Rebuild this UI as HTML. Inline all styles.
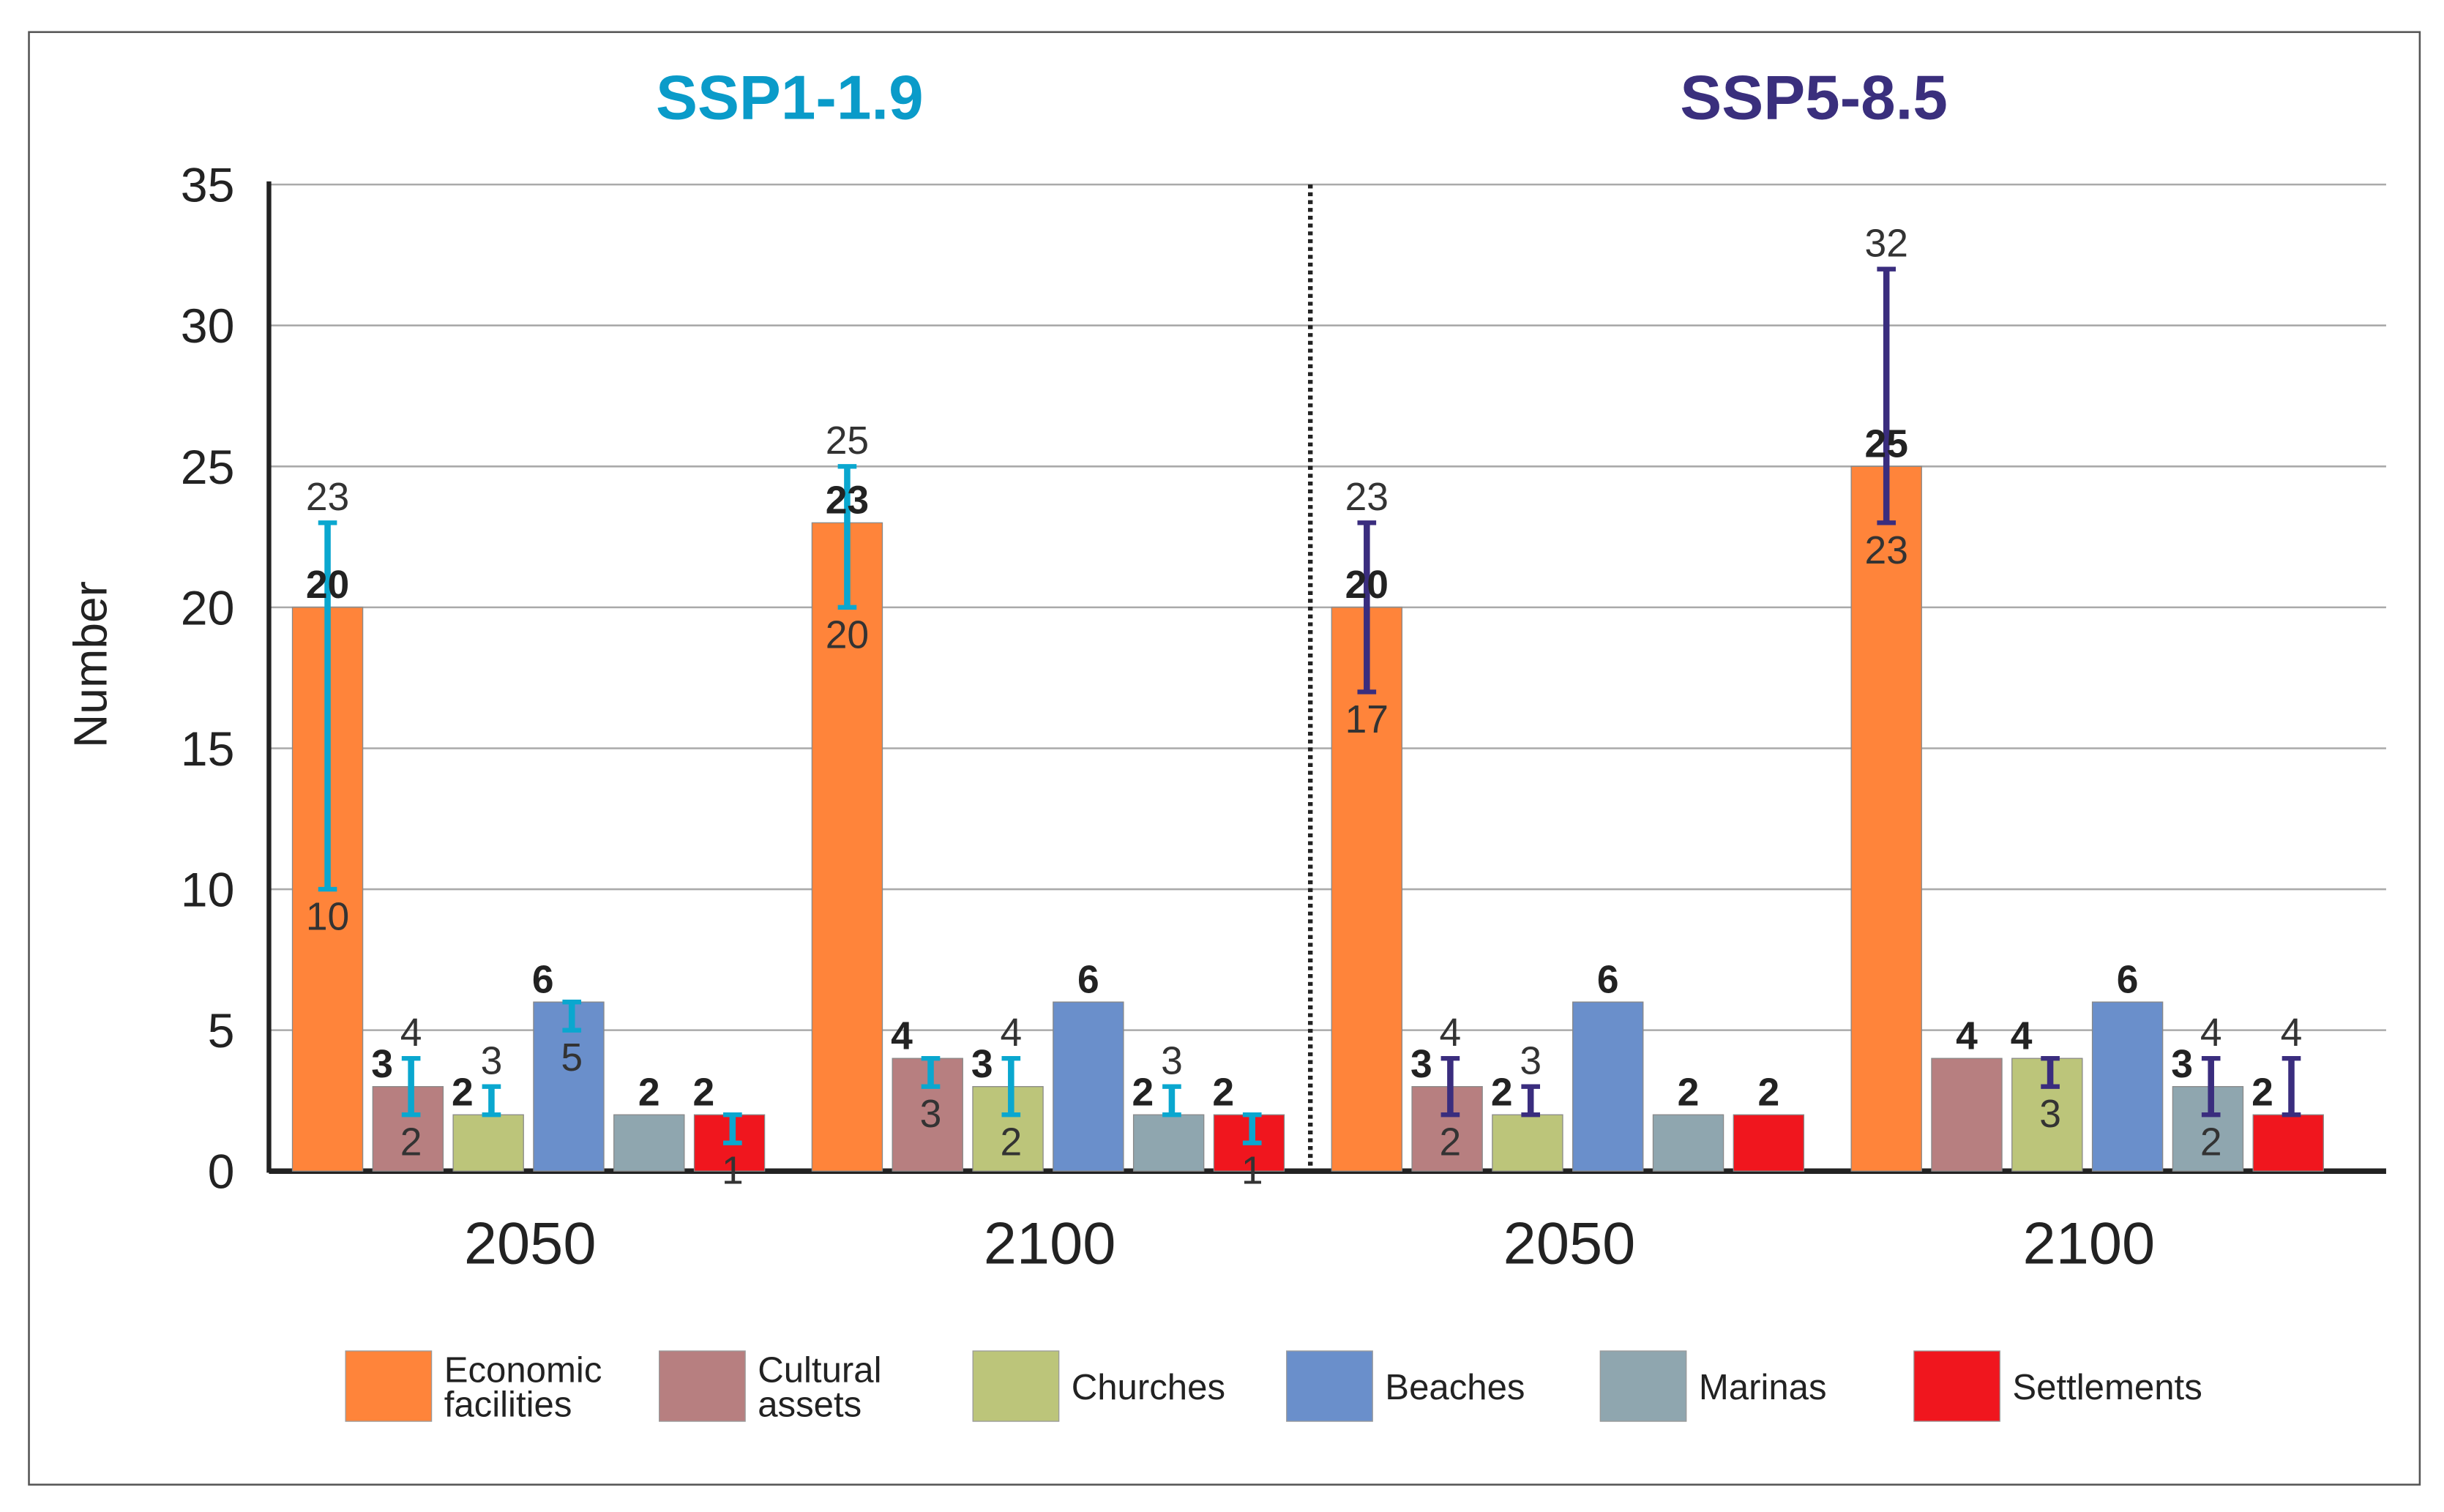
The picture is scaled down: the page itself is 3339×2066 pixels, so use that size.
<!DOCTYPE html>
<html><head><meta charset="utf-8"><style>
html,body{margin:0;padding:0;background:#fff;}
svg{display:block;}
text{font-family:"Liberation Sans Narrow","Liberation Sans",sans-serif;}
</style></head><body>
<svg id="chart" width="3339" height="2066" viewBox="0 0 1563 967" preserveAspectRatio="none" xmlns="http://www.w3.org/2000/svg">
<rect x="18.5" y="20.5" width="1529" height="929" fill="#fff" stroke="#555" stroke-width="1.2"/>
<text x="505" y="76" font-size="40" font-weight="bold" fill="#0A9BC9" text-anchor="middle" style="font-family:'Liberation Sans',sans-serif">SSP1-1.9</text>
<text x="1160" y="76" font-size="40" font-weight="bold" fill="#3A2F7D" text-anchor="middle" style="font-family:'Liberation Sans',sans-serif">SSP5-8.5</text>
<text transform="translate(68,425) rotate(-90)" font-size="30" fill="#222" text-anchor="middle">Number</text>
<g id="grid"></g>
<g id="bars"></g>
<g id="labels"></g>
<g id="legend"></g>
</svg>
<script>
const categories = ["Economic facilities","Cultural assets","Churches","Beaches","Marinas","Settlements"];
const groups = ["2050","2100","2050","2100"];
const scenarios = ["SSP1-1.9","SSP1-1.9","SSP5-8.5","SSP5-8.5"];
const values_g1 = [20,3,2,6,2,2];
const values_g2 = [23,4,3,6,2,2];
const values_g3 = [20,3,2,6,2,2];
const values_g4 = [25,4,4,6,3,2];
const low_g1 = [10,2,2,5,null,1];
const high_g1 = [23,4,3,6,null,2];
const low_g2 = [20,3,2,null,2,1];
const high_g2 = [25,4,4,null,3,2];
const low_g3 = [17,2,2,null,null,null];
const high_g3 = [23,4,3,null,null,null];
const low_g4 = [23,null,3,null,2,2];
const high_g4 = [32,null,4,null,4,4];
const yTicks = [0,5,10,15,20,25,30,35];

const values = [values_g1,values_g2,values_g3,values_g4];
const lows = [low_g1,low_g2,low_g3,low_g4];
const highs = [high_g1,high_g2,high_g3,high_g4];
const colors = ["#FF843A","#B77F80","#BCC57A","#6A8FCB","#8FA6AF","#F0161E"];
const errColors = ["#0AA7CF","#0AA7CF","#3A2D7E","#3A2D7E"];
const NS="http://www.w3.org/2000/svg";
const X0=172, X1=1526, Y0=749, Y35=118;
function y(v){return Y0-(v/35)*(Y0-Y35);}
function gx(g){return 187+g*332.3;}
function bx(g,k){return gx(g)+k*51.4;}
const BW=45;
function mk(tag,attrs,parent,txt){const e=document.createElementNS(NS,tag);for(const a in attrs)e.setAttribute(a,attrs[a]);if(txt!==undefined)e.textContent=txt;parent.appendChild(e);return e;}
const grid=document.getElementById('grid'),bars=document.getElementById('bars'),labels=document.getElementById('labels'),legend=document.getElementById('legend');
yTicks.forEach(t=>{
  if(t>0){const l=mk('line',{x1:X0,x2:X1,y1:y(t),y2:y(t),stroke:'#aaa','stroke-width':1.2},grid);
  
  }
  const tx=mk('text',{x:150,y:y(t)+11,'font-size':31,fill:'#222','text-anchor':'end'},grid,t);
  
  
});
const yax=mk('line',{x1:X0,x2:X0,y1:Y35-2,y2:Y0+1,stroke:'#222','stroke-width':3},grid);


const div=mk('line',{x1:838,x2:838,y1:Y35,y2:Y0,stroke:'#222','stroke-width':3,'stroke-dasharray':'2.5,2.5'},grid);


values.forEach((vals,g)=>{
  vals.forEach((v,k)=>{
    const x=bx(g,k);
    const r=mk('rect',{x:x,y:y(v),width:BW,height:Y0-y(v),fill:colors[k],stroke:'#888','stroke-width':0.6},bars);
    
    
    const cx=x+BW/2;
    const lo=lows[g][k],hi=highs[g][k];
    const hasErr=lo!==null&&hi!==null;
    const vx=(hasErr&&k>0)?x+6:cx;
    const vl=mk('text',{x:vx,y:y(v)-6,'font-size':25,'font-weight':'bold',fill:'#222','text-anchor':'middle',style:"font-family:'Liberation Sans',sans-serif"},labels,v);
    
    
    if(hasErr){
      const ex=k>0?cx+2:cx;
      const ec=errColors[g];
      const eg=mk('g',{},bars);
      
      
      mk('line',{x1:ex,x2:ex,y1:y(hi),y2:y(lo),stroke:ec,'stroke-width':4},eg);
      mk('line',{x1:ex-6,x2:ex+6,y1:y(hi),y2:y(hi),stroke:ec,'stroke-width':3},eg);
      mk('line',{x1:ex-6,x2:ex+6,y1:y(lo),y2:y(lo),stroke:ec,'stroke-width':3},eg);
      if(hi!==v){const h=mk('text',{x:ex,y:y(hi)-8,'font-size':25,fill:'#333','text-anchor':'middle'},labels,hi);
        
        }
      if(lo!==v){const l=mk('text',{x:ex,y:y(lo)+26,'font-size':25,fill:'#333','text-anchor':'middle'},labels,lo);
        
        }
    }
  });
  const gl=mk('text',{x:gx(g)+152,y:808,'font-size':38,fill:'#222','text-anchor':'middle'},labels,groups[g]);
  
  
});
const xax=mk('line',{x1:X0,x2:X1,y1:Y0,y2:Y0,stroke:'#222','stroke-width':3.5},grid);


const legNames=[["Economic","facilities"],["Cultural","assets"],["Churches"],["Beaches"],["Marinas"],["Settlements"]];
legNames.forEach((n,i)=>{
  const lx=221+i*200.6;
  const g=mk('g',{},legend);
  
  
  mk('rect',{x:lx,y:864,width:55,height:45,fill:colors[i],stroke:'#999','stroke-width':0.6},g);
  if(n.length===2){mk('text',{x:lx+63,y:884,'font-size':23,fill:'#222'},g,n[0]);mk('text',{x:lx+63,y:906,'font-size':23,fill:'#222'},g,n[1]);}
  else mk('text',{x:lx+63,y:895,'font-size':23,fill:'#222'},g,n[0]);
});
</script>
</body></html>
